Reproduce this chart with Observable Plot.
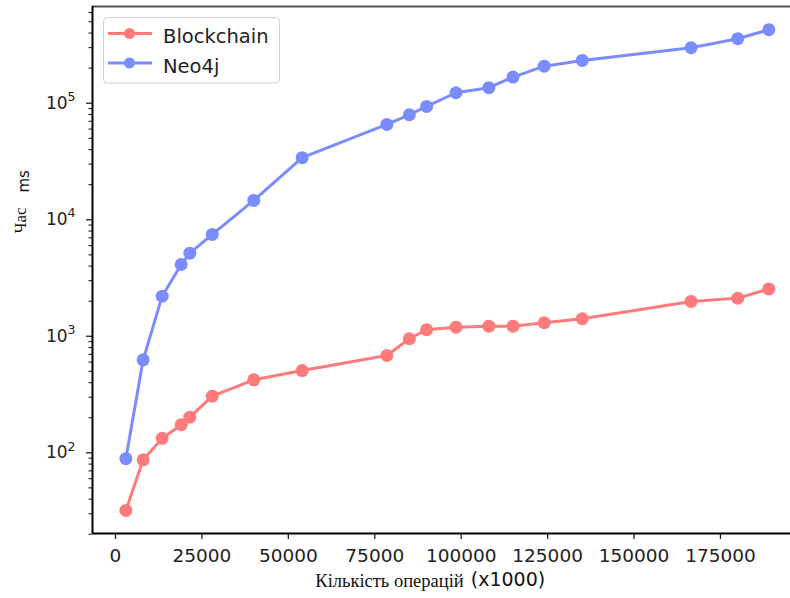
<!DOCTYPE html>
<html>
<head>
<meta charset="utf-8">
<script src="https://cdn.jsdelivr.net/npm/d3@7"></script>
<script src="https://cdn.jsdelivr.net/npm/@observablehq/plot@0.6"></script>
<style>
  html, body { margin: 0; padding: 0; background: #fff; }
  #chart { width: 790px; height: 598px; overflow: hidden; }
</style>
</head>
<body>
<div id="chart"></div>
<script>
// operations (x1000)
const operations = [3000, 8000, 13500, 19000, 21500, 28000, 40000, 54000, 78500, 85000, 90000, 98500, 108000, 115000, 124000, 135000, 166500, 180000, 189000];
// time in ms
const blockchain = [32, 87, 133, 174, 202, 306, 423, 508, 684, 952, 1137, 1197, 1221, 1221, 1306, 1413, 1990, 2125, 2550];
const neo4j = [89, 628, 2208, 4130, 5166, 7476, 14650, 34070, 65800, 79600, 93900, 123000, 135900, 167500, 208000, 232700, 299300, 357800, 427500];

const seriesNames = ["Blockchain", "Neo4j"];
const seriesColors = ["#ff7b7b", "#7b8cff"];
const xTicks = [0, 25000, 50000, 75000, 100000, 125000, 150000, 175000];
const yMajorTicks = [100, 1000, 10000, 100000];
const yMinorTicks = [20,30,40,50,60,70,80,90,200,300,400,500,600,700,800,900,2000,3000,4000,5000,6000,7000,8000,9000,20000,30000,40000,50000,60000,70000,80000,90000,200000,300000,400000,500000,600000];
const xLabelMain = "Кількість операцій";
const xLabelUnit = "(x1000)";
const yLabelMain = "Час";
const yLabelUnit = "ms";

const table = [];
[blockchain, neo4j].forEach((vals, si) => {
  vals.forEach((v, i) => table.push({series: seriesNames[si], x: operations[i], y: v}));
});

const xDomain = [-6653, 195256];
const yDomain = [20.3, 676000];

const chart = Plot.plot({
  width: 790,
  height: 598,
  marginLeft: 92,
  marginRight: 0,
  marginTop: 6,
  marginBottom: 65,
  style: {fontFamily: "DejaVu Sans", background: "#fff", color: "#222"},
  x: {domain: xDomain},
  y: {type: "log", domain: yDomain},
  color: {domain: seriesNames, range: seriesColors},
  marks: [
    Plot.axisX({ticks: xTicks, tickSize: 6, tickPadding: 9, tickFormat: d => String(d), fontSize: 18.5, label: null, strokeWidth: 1.3}),
    Plot.axisY({ticks: yMinorTicks, tickSize: 3.5, tickFormat: () => "", label: null, strokeWidth: 1.1}),
    Plot.axisY({ticks: yMajorTicks, tickSize: 6, tickPadding: 11, tickFormat: d => "10^" + Math.round(Math.log10(d)), fontSize: 17, label: null, strokeWidth: 1.3}),
    Plot.ruleY([yDomain[1]], {stroke: "#555", strokeWidth: 2}),
    Plot.ruleY([yDomain[0]], {stroke: "#000", strokeWidth: 2}),
    Plot.ruleX([xDomain[0]], {stroke: "#000", strokeWidth: 2}),
    Plot.line(table, {x: "x", y: "y", z: "series", stroke: "series", strokeWidth: 3}),
    Plot.dot(table, {x: "x", y: "y", fill: "series", r: 6.5}),
    Plot.text([xLabelMain], {frameAnchor: "bottom", text: d => d, dx: -52, dy: 53, fontFamily: "Liberation Serif", fontSize: 18.5, fill: "#111"}),
    Plot.text([xLabelUnit], {frameAnchor: "bottom", text: d => d, dx: 66.5, dy: 52.5, fontFamily: "DejaVu Sans", fontSize: 19, fill: "#111"}),
    Plot.text([yLabelMain], {frameAnchor: "left", text: d => d, rotate: -90, dx: -72.4, dy: -36.5, fontFamily: "Liberation Serif", fontSize: 17, fill: "#111"}),
    Plot.text([yLabelUnit], {frameAnchor: "left", text: d => d, rotate: -90, dx: -68.8, dy: -77.5, fontFamily: "DejaVu Sans", fontSize: 15, fill: "#111"})
  ]
});

document.getElementById("chart").appendChild(chart);

// superscript exponents on y tick labels
d3.select(chart).selectAll('g[aria-label="y-axis tick label"] text').each(function () {
  const m = this.textContent.match(/^10\^(\d+)$/);
  if (m) {
    const s = d3.select(this);
    s.text("10");
    s.append("tspan").attr("font-size", "12.5px").attr("dy", "-0.62em").text(m[1]);
  }
});

// legend
const svg = d3.select(chart);
const lg = svg.append("g").attr("font-family", "DejaVu Sans").attr("text-anchor", "start");
lg.append("rect")
  .attr("x", 103.5).attr("y", 17.5).attr("width", 176).attr("height", 65.5)
  .attr("rx", 4).attr("fill", "#fff").attr("fill-opacity", 0.85)
  .attr("stroke", "#d0d0d0").attr("stroke-width", 1);
seriesNames.forEach((name, i) => {
  const cy = 33.5 + i * 29.5;
  lg.append("line").attr("x1", 108).attr("x2", 152).attr("y1", cy).attr("y2", cy)
    .attr("stroke", seriesColors[i]).attr("stroke-width", 3);
  lg.append("circle").attr("cx", 129.5).attr("cy", cy).attr("r", 5.5).attr("fill", seriesColors[i]);
  lg.append("text").attr("x", 163).attr("y", cy + 9.8).attr("text-anchor", "start")
    .attr("font-size", "19.5px").attr("fill", "#222").text(name);
});
</script>
</body>
</html>
